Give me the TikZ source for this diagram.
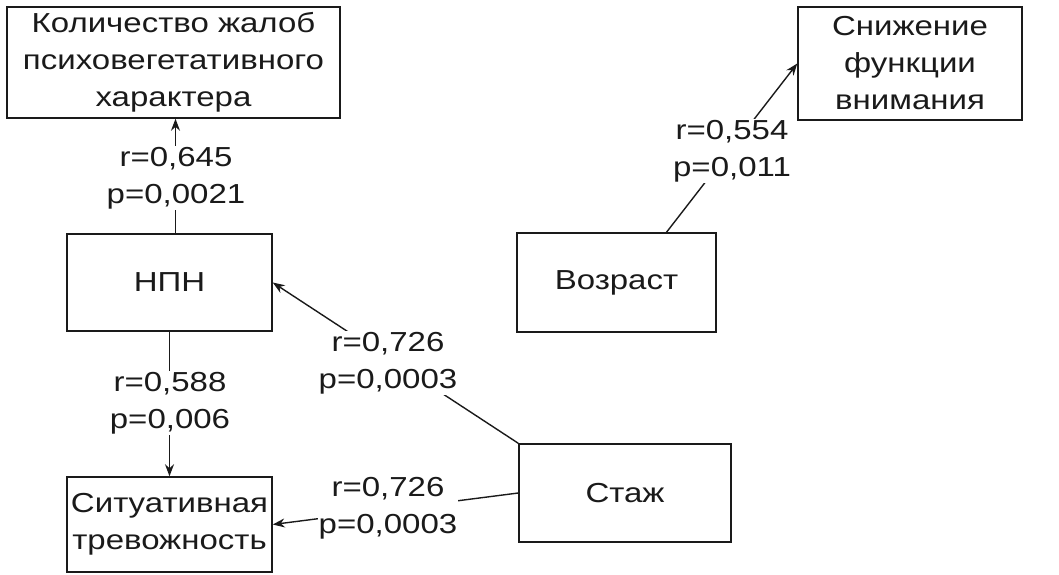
\documentclass[tikz,border=0pt]{standalone}
\usepackage{fontspec}
\setmainfont{Liberation Sans}[FakeStretch=1.2]
\usetikzlibrary{arrows.meta}
\definecolor{ink}{HTML}{1A1A1A}
\tikzset{
  box/.style={draw=ink, line width=1.5pt, inner sep=0pt, align=center, text=ink,
    font=\fontsize{27.5}{37}\selectfont},
  lbl/.style={fill=white, inner sep=1pt, align=center, text=ink,
    font=\fontsize{27.5}{37}\selectfont},
  conn/.style={draw=ink, line width=1.4pt},
  arr/.style={conn, -{Stealth[length=12pt,width=9pt]}}
}
\begin{document}
\begin{tikzpicture}[x=1pt,y=-1pt]
\useasboundingbox (0,0) rectangle (1059,574);
\node[box, minimum width=333pt, minimum height=111pt] (k) at (173.5,62.5)
  {Количество жалоб\\психовегетативного\\характера};
\node[box, minimum width=205pt, minimum height=97pt] (npn) at (169.5,282.5) {НПН};
\node[box, minimum width=205pt, minimum height=95pt] (sit) at (169.5,524.5)
  {Ситуативная\\тревожность};
\node[box, minimum width=212pt, minimum height=98pt] (stazh) at (625,493) {Стаж};
\node[box, minimum width=199pt, minimum height=99pt] (voz) at (616.5,282.5) {Возраст};
\node[box, minimum width=224pt, minimum height=113pt] (sn) at (910,63.5)
  {Снижение\\функции\\внимания};

\draw[arr] ([xshift=6pt]npn.north) -- ([xshift=6pt]npn.north |- k.south);
\draw[arr] (npn.south) -- (sit.north);
\draw[arr] (stazh.north west) -- (npn.east);
\draw[arr] (stazh.west) -- (sit.east);
\draw[arr] ([xshift=50pt]voz.north) -- (sn.west);

\node[lbl] (l1) at (176,178) {r=0,645\\p=0,0021};
\node[lbl] (l2) at (170,403) {r=0,588\\p=0,006};
\node[lbl] (l3) at (388,363) {r=0,726\\p=0,0003};
\node[lbl] (l4) at (388,508) {r=0,726\\p=0,0003};
\node[lbl] (l5) at (732,151) {r=0,554\\p=0,011};
\end{tikzpicture}
\end{document}
